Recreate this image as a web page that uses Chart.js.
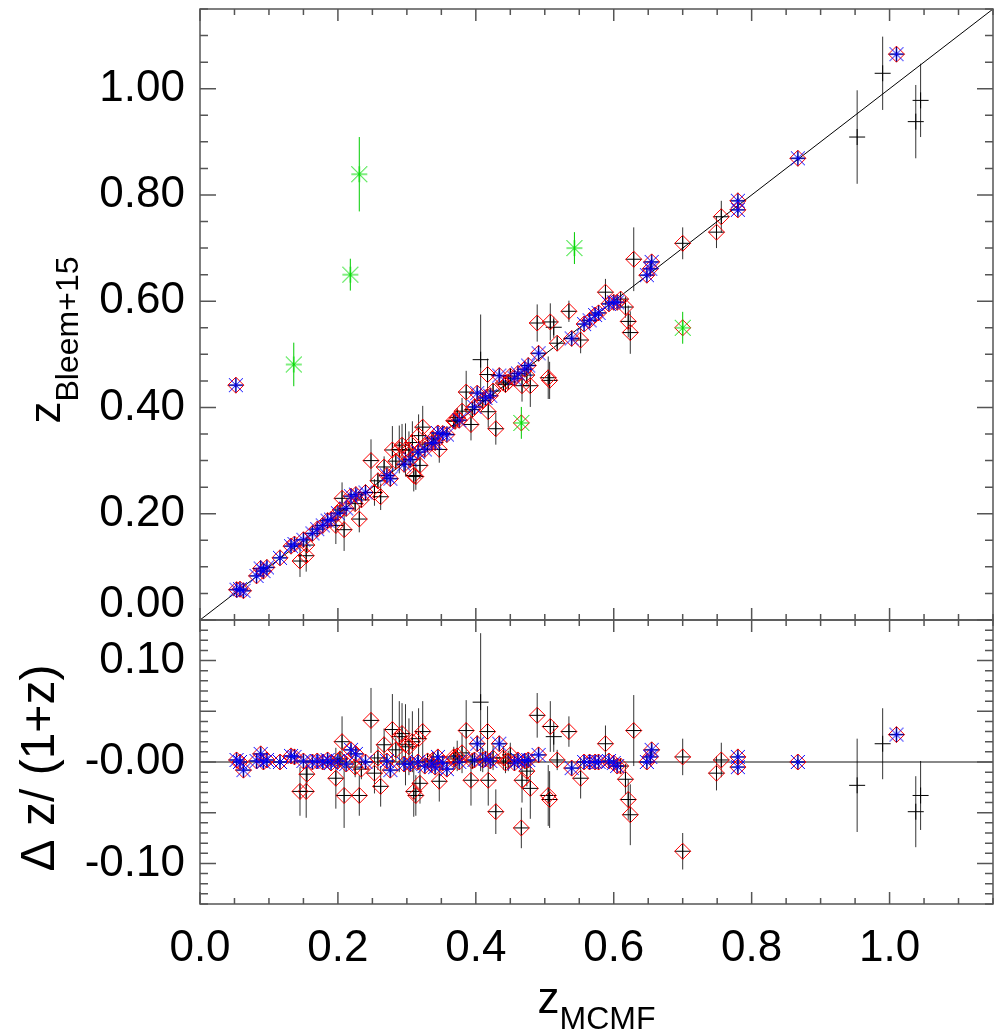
<!DOCTYPE html>
<html>
<head>
<meta charset="utf-8">
<script src="https://cdn.jsdelivr.net/npm/chart.js@4.4.1/dist/chart.umd.min.js"></script>
<style>
  html, body { margin: 0; padding: 0; background: #fff; }
  #wrap { width: 1003px; height: 1034px; }
</style>
</head>
<body>
<div id="wrap"><canvas id="chart" width="1003" height="1034"></canvas></div>
<script>
// values, one entry per cluster
// kind: b = blue asterisk + red diamond, r = red diamond, k = black only,
//       g = green asterisk (top only), gr = green asterisk + red diamond
const zMcmf = [
  0.052, 0.053, 0.058, 0.063, 0.082, 0.088, 0.092, 0.097, 0.116, 0.132,
  0.137, 0.136, 0.145, 0.150, 0.154, 0.155, 0.163, 0.170, 0.178, 0.185,
  0.190, 0.197, 0.200, 0.203, 0.206, 0.209, 0.212, 0.218, 0.219, 0.225,
  0.231, 0.231, 0.234, 0.240, 0.248, 0.253, 0.262, 0.267, 0.271, 0.276,
  0.279, 0.284, 0.289, 0.293, 0.296, 0.303, 0.305, 0.310, 0.313, 0.316,
  0.317, 0.319, 0.323, 0.326, 0.330, 0.336, 0.341, 0.345, 0.347, 0.352,
  0.358, 0.370, 0.376, 0.386, 0.393, 0.398, 0.402, 0.407, 0.410, 0.414,
  0.417, 0.418, 0.421, 0.425, 0.429, 0.434, 0.440, 0.447, 0.456, 0.461,
  0.466, 0.467, 0.471, 0.476, 0.479, 0.489, 0.491, 0.505, 0.507, 0.508,
  0.513, 0.518, 0.535, 0.539, 0.543, 0.552, 0.557, 0.565, 0.573, 0.578,
  0.588, 0.593, 0.600, 0.605, 0.610, 0.617, 0.621, 0.624, 0.629, 0.648,
  0.653, 0.655, 0.700, 0.700, 0.749, 0.756, 0.780, 0.780, 0.867, 0.953,
  0.990, 1.010, 1.038, 1.045, 0.308, 0.368, 0.373, 0.380, 0.443, 0.450,
  0.474, 0.258, 0.338, 0.395, 0.226, 0.298
];
const zBleem = [
  0.442, 0.057, 0.058, 0.055, 0.083, 0.097, 0.092, 0.099, 0.117, 0.139,
  0.143, 0.481, 0.111, 0.151, 0.121, 0.141, 0.163, 0.171, 0.178, 0.187,
  0.189, 0.178, 0.201, 0.207, 0.229, 0.170, 0.210, 0.650, 0.233, 0.219,
  0.839, 0.190, 0.226, 0.240, 0.300, 0.240, 0.232, 0.288, 0.272, 0.266,
  0.320, 0.299, 0.321, 0.329, 0.293, 0.320, 0.302, 0.272, 0.270, 0.316,
  0.347, 0.291, 0.363, 0.321, 0.331, 0.333, 0.334, 0.352, 0.321, 0.351,
  0.349, 0.374, 0.376, 0.429, 0.368, 0.401, 0.427, 0.490, 0.413, 0.418,
  0.462, 0.392, 0.422, 0.431, 0.360, 0.460, 0.446, 0.448, 0.455, 0.464,
  0.371, 0.441, 0.472, 0.479, 0.441, 0.559, 0.502, 0.456, 0.451, 0.561,
  0.551, 0.521, 0.581, 0.530, 0.700, 0.527, 0.557, 0.564, 0.574, 0.578,
  0.617, 0.595, 0.598, 0.598, 0.604, 0.589, 0.562, 0.541, 0.679, 0.649,
  0.661, 0.674, 0.709, 0.550, 0.730, 0.759, 0.789, 0.772, 0.869, 0.909,
  1.029, 1.065, 0.938, 0.978, 0.334, 0.375, 0.381, 0.393, 0.443, 0.459,
  0.461, 0.262, 0.341, 0.396, 0.236, 0.320
];
const zBleemErr = [
  0.004, 0.004, 0.004, 0.004, 0.004, 0.006, 0.004, 0.004, 0.004, 0.005,
  0.005, 0.041, 0.030, 0.004, 0.030, 0.012, 0.004, 0.004, 0.004, 0.005,
  0.004, 0.035, 0.004, 0.010, 0.030, 0.040, 0.005, 0.030, 0.006, 0.012,
  0.070, 0.025, 0.012, 0.004, 0.040, 0.025, 0.025, 0.020, 0.005, 0.008,
  0.045, 0.015, 0.045, 0.040, 0.005, 0.035, 0.005, 0.030, 0.025, 0.005,
  0.040, 0.025, 0.040, 0.005, 0.010, 0.005, 0.006, 0.006, 0.025, 0.005,
  0.008, 0.012, 0.005, 0.040, 0.030, 0.005, 0.010, 0.085, 0.015, 0.006,
  0.030, 0.030, 0.005, 0.015, 0.030, 0.008, 0.015, 0.012, 0.005, 0.005,
  0.030, 0.030, 0.005, 0.005, 0.040, 0.035, 0.008, 0.040, 0.035, 0.035,
  0.020, 0.012, 0.020, 0.008, 0.030, 0.025, 0.005, 0.005, 0.005, 0.005,
  0.025, 0.005, 0.005, 0.006, 0.008, 0.020, 0.030, 0.040, 0.060, 0.005,
  0.006, 0.006, 0.030, 0.030, 0.030, 0.030, 0.006, 0.006, 0.005, 0.088,
  0.069, 0.006, 0.069, 0.069, 0.040, 0.012, 0.018, 0.025, 0.012, 0.015,
  0.018, 0.015, 0.010, 0.010, 0.008, 0.050
];
const dzNorm = [
  null, 0.002, 0.000, -0.008, 0.001, 0.008, 0.000, 0.002, 0.000, 0.006,
  0.005, null, -0.029, 0.001, -0.029, -0.012, 0.000, 0.001, 0.000, 0.002,
  -0.001, -0.016, 0.001, 0.003, 0.020, -0.033, -0.002, null, 0.012, -0.005,
  null, -0.033, -0.007, 0.000, 0.041, -0.011, -0.024, 0.017, 0.001, -0.008,
  0.032, 0.012, 0.025, 0.028, -0.002, 0.015, -0.002, -0.029, -0.033, 0.000,
  0.023, -0.021, 0.030, -0.004, 0.001, -0.002, -0.005, 0.005, -0.019, -0.001,
  -0.007, 0.003, 0.000, 0.031, -0.018, 0.002, 0.018, 0.059, 0.002, 0.003,
  0.030, -0.018, 0.001, 0.004, -0.049, 0.018, 0.004, 0.001, -0.001, 0.002,
  -0.065, -0.018, 0.001, 0.002, -0.026, 0.046, 0.007, -0.033, -0.037, 0.035,
  0.025, 0.002, 0.030, -0.006, null, -0.016, 0.000, 0.000, 0.000, 0.000,
  0.018, 0.001, -0.001, -0.004, -0.004, -0.017, -0.037, -0.052, 0.031, 0.000,
  0.005, 0.012, 0.005, -0.088, -0.011, 0.002, 0.005, -0.005, 0.000, -0.023,
  0.018, 0.027, -0.049, -0.033, 0.020, 0.005, 0.006, 0.009, -0.001, 0.007,
  -0.009, 0.004, 0.002, 0.001, 0.008, 0.017
];
const dzNormErr = [
  null, 0.003, 0.003, 0.003, 0.003, 0.005, 0.003, 0.003, 0.003, 0.004,
  0.004, null, 0.024, 0.003, 0.026, 0.011, 0.003, 0.003, 0.003, 0.004,
  0.003, 0.030, 0.003, 0.008, 0.025, 0.032, 0.004, null, 0.005, 0.010,
  null, 0.020, 0.010, 0.003, 0.032, 0.020, 0.020, 0.016, 0.004, 0.006,
  0.035, 0.012, 0.035, 0.030, 0.004, 0.028, 0.004, 0.025, 0.020, 0.004,
  0.030, 0.020, 0.030, 0.004, 0.008, 0.004, 0.005, 0.005, 0.020, 0.004,
  0.006, 0.010, 0.004, 0.030, 0.025, 0.004, 0.008, 0.068, 0.012, 0.005,
  0.025, 0.025, 0.004, 0.012, 0.022, 0.006, 0.012, 0.010, 0.004, 0.004,
  0.020, 0.022, 0.004, 0.004, 0.030, 0.022, 0.006, 0.030, 0.028, 0.025,
  0.015, 0.010, 0.015, 0.006, null, 0.020, 0.004, 0.004, 0.004, 0.004,
  0.018, 0.004, 0.004, 0.005, 0.006, 0.015, 0.020, 0.030, 0.035, 0.004,
  0.005, 0.005, 0.018, 0.018, 0.017, 0.017, 0.004, 0.004, 0.003, 0.046,
  0.035, 0.004, 0.035, 0.034, 0.030, 0.010, 0.015, 0.020, 0.010, 0.012,
  0.015, 0.012, 0.008, 0.008, 0.006, 0.040
];
const kind = [
  'b','b','b','b','b','b','b','b','b','b',
  'b','g','r','b','r','r','b','b','b','b',
  'b','r','b','r','r','r','b','g','b','r',
  'g','r','r','b','r','r','r','r','b','b',
  'r','r','r','r','b','r','b','r','r','b',
  'r','r','r','b','r','b','b','b','r','b',
  'b','r','b','r','r','b','b','k','r','b',
  'r','r','b','r','r','b','r','r','b','b',
  'gr','r','b','b','r','r','b','r','r','r',
  'k','r','r','b','g','r','b','b','b','b',
  'r','b','b','b','r','r','r','r','r','b',
  'b','b','r','gr','r','r','b','b','b','k',
  'k','b','k','k','r','r','r','r','r','r',
  'r','r','r','r','b','r'
];
const xTickLabels = ['0.0', '0.2', '0.4', '0.6', '0.8', '1.0'];

const FONT = '"Liberation Sans", Arial, Helvetica, sans-serif';

// IDL style asterisk as a point image
function asterisk(color, r) {
  const c = document.createElement('canvas');
  c.width = c.height = 2 * r + 2;
  const g = c.getContext('2d');
  const m = r + 1;
  g.strokeStyle = color;
  g.lineWidth = 1;
  g.beginPath();
  g.moveTo(m - r, m); g.lineTo(m + r, m);
  g.moveTo(m, m - r); g.lineTo(m, m + r);
  g.moveTo(m - r, m - r); g.lineTo(m + r, m + r);
  g.moveTo(m - r, m + r); g.lineTo(m + r, m - r);
  g.stroke();
  return c;
}

// build the point lists
const topPts = { blue: [], red: [], black: [], green: [], err: [], gerr: [] };
const botPts = { blue: [], red: [], black: [], err: [] };
zMcmf.forEach((z, i) => {
  const k = kind[i];
  const p = { x: z, y: zBleem[i] };
  const e = zBleemErr[i];
  if (k === 'g' || k === 'gr') {
    topPts.green.push(p);
    topPts.gerr.push({ x: z, y: zBleem[i] - e }, { x: z, y: zBleem[i] + e }, { x: z, y: null });
    if (k === 'gr') topPts.red.push(p);
  } else {
    topPts.black.push(p);
    topPts.err.push({ x: z, y: zBleem[i] - e }, { x: z, y: zBleem[i] + e }, { x: z, y: null });
    if (k === 'b') { topPts.blue.push(p); topPts.red.push(p); }
    if (k === 'r') topPts.red.push(p);
  }
  if (dzNorm[i] === null) return;
  const q = { x: z, y: dzNorm[i] };
  const f = dzNormErr[i];
  botPts.black.push(q);
  botPts.err.push({ x: z, y: dzNorm[i] - f }, { x: z, y: dzNorm[i] + f }, { x: z, y: null });
  if (k === 'b') { botPts.blue.push(q); botPts.red.push(q); }
  if (k === 'r' || k === 'gr') botPts.red.push(q);
});

const blueStar = asterisk('#0000ff', 7);
const greenStar = asterisk('#00dd00', 8);

function marks(data, axis, style, color, r, order) {
  return {
    data, yAxisID: axis, pointStyle: style, pointRadius: r,
    borderColor: color, backgroundColor: 'rgba(0,0,0,0)', borderWidth: 1, order
  };
}
function lines(data, axis, color, w, order) {
  return {
    data, yAxisID: axis, showLine: true, spanGaps: false, pointRadius: 0,
    borderColor: color, borderWidth: w, order
  };
}

const datasets = [
  marks(topPts.green, 'yTop', greenStar, '#00dd00', 8, 1),
  marks(topPts.blue, 'yTop', blueStar, '#0000ff', 7, 2),
  marks(botPts.blue, 'yRes', blueStar, '#0000ff', 7, 2),
  marks(topPts.red, 'yTop', 'rectRot', '#ff0000', 8, 3),
  marks(botPts.red, 'yRes', 'rectRot', '#ff0000', 8, 3),
  marks(topPts.black, 'yTop', 'cross', '#000000', 8, 4),
  marks(botPts.black, 'yRes', 'cross', '#000000', 8, 4),
  lines(topPts.gerr, 'yTop', '#00cc00', 1, 5),
  lines(topPts.err, 'yTop', 'rgba(0,0,0,0.8)', 1, 6),
  lines(botPts.err, 'yRes', 'rgba(0,0,0,0.8)', 1, 6),
  lines([{ x: 0, y: 0 }, { x: 1.15, y: 1.15 }], 'yTop', '#000000', 1, 7),
  lines([{ x: 0, y: 0 }, { x: 1.15, y: 0 }], 'yRes', '#888888', 2, 7)
];

// box around each panel with inward ticks on all sides
const frame = {
  id: 'frame',
  afterDatasetsDraw(chart) {
    const ctx = chart.ctx;
    const xs = chart.scales.x;
    ctx.save();
    ctx.strokeStyle = '#555';
    ctx.lineWidth = 1.5;
    const panels = [
      { s: chart.scales.yTop, lo: 0, hi: 23, step: 0.05, every: 4 },
      { s: chart.scales.yRes, lo: -14, hi: 14, step: 0.01, every: 5 }
    ];
    panels.forEach(p => {
      const L = xs.left, R = xs.right, T = p.s.top, B = p.s.bottom;
      ctx.strokeRect(L, T, R - L, B - T);
      ctx.beginPath();
      for (let i = 0; i <= 23; i++) {
        const px = xs.getPixelForValue(i * 0.05);
        const len = i % 4 === 0 ? 12 : 6;
        ctx.moveTo(px, B); ctx.lineTo(px, B - len);
        ctx.moveTo(px, T); ctx.lineTo(px, T + len);
      }
      for (let i = p.lo; i <= p.hi; i++) {
        const py = p.s.getPixelForValue(i * p.step);
        const len = i % p.every === 0 ? 16 : 8;
        ctx.moveTo(L, py); ctx.lineTo(L + len, py);
        ctx.moveTo(R, py); ctx.lineTo(R - len, py);
      }
      ctx.stroke();
    });
    ctx.restore();
  }
};

// axis titles with subscripts, and the lifted 0.00 label
const titles = {
  id: 'titles',
  afterDraw(chart) {
    const ctx = chart.ctx;
    const xs = chart.scales.x, yTop = chart.scales.yTop, yRes = chart.scales.yRes;
    ctx.save();
    ctx.fillStyle = '#000';
    ctx.textBaseline = 'alphabetic';
    ctx.textAlign = 'left';

    ctx.font = '44px ' + FONT;
    const wz = ctx.measureText('z').width;
    const w00 = ctx.measureText('0.00').width;
    ctx.fillText('0.00', 185 - w00, yTop.bottom - 3);

    // x title
    ctx.font = '32px ' + FONT;
    const ws = ctx.measureText('MCMF').width;
    const x0 = (xs.left + xs.right) / 2 - (wz + ws) / 2;
    ctx.font = '44px ' + FONT;
    ctx.fillText('z', x0, 1013);
    ctx.font = '32px ' + FONT;
    ctx.fillText('MCMF', x0 + wz, 1029);

    // top y title, rotated
    ctx.font = '32px ' + FONT;
    const wb = ctx.measureText('Bleem+15').width;
    ctx.save();
    ctx.translate(60, 340);
    ctx.rotate(-Math.PI / 2);
    const sx = -(wz + wb) / 2;
    ctx.font = '44px ' + FONT;
    ctx.fillText('z', sx, 0);
    ctx.font = '32px ' + FONT;
    ctx.fillText('Bleem+15', sx + wz, 18);
    ctx.restore();

    // bottom y title, rotated
    ctx.save();
    ctx.translate(54, (yRes.top + yRes.bottom) / 2 + 6);
    ctx.rotate(-Math.PI / 2);
    ctx.font = '48px ' + FONT;
    ctx.textAlign = 'center';
    ctx.fillText('\u0394 z/ (1+z)', 0, 0);
    ctx.restore();

    ctx.restore();
  }
};

const tickFont = { family: FONT, size: 44 };
const fitY = (s) => { s.width = 200; s.paddingTop = 0; s.paddingBottom = 0; };

new Chart(document.getElementById('chart'), {
  type: 'scatter',
  data: { datasets },
  options: {
    responsive: false,
    animation: false,
    events: [],
    layout: { padding: { top: 9, right: 10, left: 0, bottom: 0 } },
    plugins: { legend: { display: false }, tooltip: { enabled: false } },
    scales: {
      x: {
        type: 'linear', position: 'bottom', min: 0, max: 1.15,
        grid: { display: false, drawTicks: false }, border: { display: false },
        ticks: {
          stepSize: 0.2, includeBounds: false, padding: 18, color: '#000', font: tickFont,
          maxRotation: 0, autoSkip: false,
          callback: (v) => xTickLabels[Math.round(v / 0.2)]
        },
        afterFit: (s) => { s.height = 130; s.paddingLeft = 0; s.paddingRight = 0; }
      },
      yRes: {
        type: 'linear', axis: 'y', position: 'left', stack: 'panels', stackWeight: 284,
        min: -0.14, max: 0.14,
        grid: { display: false, drawTicks: false }, border: { display: false },
        ticks: {
          stepSize: 0.05, includeBounds: false, padding: 15, color: '#000', font: tickFont,
          callback: (v) => Math.abs(v) < 1e-9 ? '-0.00' : v.toFixed(2)
        },
        afterFit: fitY
      },
      yTop: {
        type: 'linear', axis: 'y', position: 'left', stack: 'panels', stackWeight: 611,
        min: 0, max: 1.15,
        grid: { display: false, drawTicks: false }, border: { display: false },
        ticks: {
          stepSize: 0.2, includeBounds: false, padding: 15, color: '#000', font: tickFont,
          callback: (v) => Math.abs(v) < 1e-9 ? '' : v.toFixed(2)
        },
        afterFit: fitY
      }
    }
  },
  plugins: [frame, titles]
});
</script>
</body>
</html>
